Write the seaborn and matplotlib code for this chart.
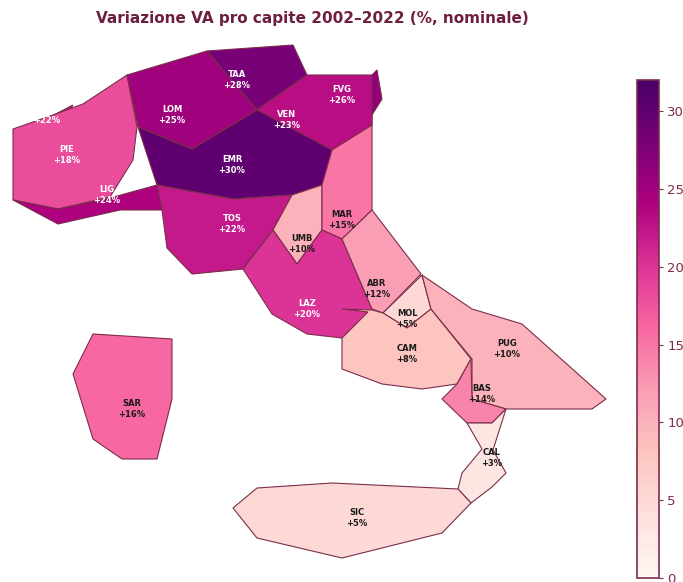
import matplotlib
matplotlib.use("Agg")
import matplotlib.pyplot as plt
import seaborn as sns
from matplotlib.colors import Normalize
from matplotlib.cm import ScalarMappable

sns.set_theme(style="white")
plt.rcParams["font.family"] = ["DejaVu Sans"]

regions = ["VDA", "PIE", "LIG", "LOM", "TAA", "FVG", "VEN", "EMR", "TOS", "UMB",
           "MAR", "LAZ", "ABR", "MOL", "CAM", "PUG", "BAS", "CAL", "SIC", "SAR"]
growth = [22, 18, 24, 25, 28, 26, 23, 30, 22, 10,
          15, 20, 12, 5, 8, 10, 14, 3, 5, 16]

# region outlines
vda = [(48, 118), (73, 105), (70, 110), (55, 118)]
pie = [(13, 129), (53, 115), (83, 104), (127, 75), (137, 127), (133, 160), (110, 197), (58, 209), (13, 200)]
lig = [(13, 200), (58, 224), (120, 210), (162, 210), (157, 185), (110, 198), (58, 209)]
lom = [(127, 75), (207, 51), (257, 110), (192, 149), (138, 127)]
taa = [(207, 51), (293, 45), (307, 75), (257, 110)]
fvg = [(372, 75), (377, 70), (382, 99), (372, 115), (372, 125), (360, 125)]
ven = [(257, 110), (307, 75), (372, 75), (372, 125), (332, 150)]
emr = [(138, 127), (192, 149), (257, 110), (332, 150), (322, 185), (292, 195), (233, 199), (157, 185)]
tos = [(157, 185), (233, 199), (292, 195), (273, 230), (243, 269), (192, 274), (167, 248), (162, 210)]
umb = [(292, 195), (322, 185), (322, 230), (297, 264), (273, 230)]
mar = [(332, 150), (372, 125), (372, 210), (342, 239), (322, 230), (322, 185)]
laz = [(273, 230), (297, 264), (322, 230), (342, 239), (372, 309), (342, 338), (307, 334), (272, 314), (243, 269)]
abr = [(342, 239), (372, 210), (421, 274), (383, 313), (372, 309)]
mol = [(422, 275), (431, 309), (407, 328), (383, 313)]
cam = [(372, 310), (383, 313), (407, 328), (431, 309), (471, 359), (457, 384), (422, 389), (382, 384), (342, 369), (342, 338), (368, 312), (342, 309)]
pug = [(422, 275), (472, 309), (522, 324), (606, 399), (592, 409), (506, 409), (472, 399), (472, 359), (431, 309)]
bas = [(471, 359), (472, 399), (506, 409), (492, 423), (467, 423), (442, 399), (457, 384)]
cal = [(467, 423), (492, 423), (506, 409), (493, 450), (506, 473), (492, 487), (471, 503), (458, 489), (462, 473), (482, 449)]
sic = [(233, 508), (257, 488), (332, 483), (458, 489), (471, 503), (442, 533), (342, 558), (257, 538)]
sar = [(93, 334), (172, 339), (172, 399), (157, 459), (122, 459), (93, 439), (73, 374)]
outlines = [vda, pie, lig, lom, taa, fvg, ven, emr, tos, umb, mar, laz, abr, mol, cam, pug, bas, cal, sic, sar]

label_x = [47, 67, 107, 172, 237, 342, 287, 232, 232, 302, 342, 307, 377, 407, 407, 507, 482, 492, 357, 132]
label_y = [115, 155, 195, 115, 80, 95, 120, 165, 224, 244, 220, 309, 289, 319, 354, 349, 394, 458, 518, 409]

edge = "#7b2d4a"
cmap = sns.color_palette("RdPu", as_cmap=True)
norm = Normalize(vmin=0, vmax=32)

fig = plt.figure(figsize=(6.83, 5.82), dpi=100)
ax = fig.add_axes([0, 0, 1, 1])
for name, val, pts in zip(regions, growth, outlines):
    xs, ys = zip(*pts)
    ax.fill(xs, ys, facecolor=cmap(norm(val)), edgecolor=edge, linewidth=0.8, joinstyle="miter")
for name, val, x, y in zip(regions, growth, label_x, label_y):
    ax.text(x, y, f"{name}\n+{val}%", ha="center", va="center", fontsize=6, fontweight="bold",
            color="white" if val >= 18 else "#1a1a1a", linespacing=1.15)
ax.set_xlim(0, 683)
ax.set_ylim(582, 0)
ax.axis("off")

fig.text(312 / 683, 1 - 18 / 582, "Variazione VA pro capite 2002\u20132022 (%, nominale)", ha="center", va="center",
         fontsize=10.95, fontweight="bold", color="#6e1f3f")

cax = fig.add_axes([637 / 683, 1 - 578 / 582, 22 / 683, 498 / 582])
cb = fig.colorbar(ScalarMappable(norm=norm, cmap=cmap), cax=cax)
cb.set_ticks([0, 5, 10, 15, 20, 25, 30])
cb.outline.set_edgecolor(edge)
cb.outline.set_linewidth(1.2)
cax.tick_params(axis="y", length=3, width=0.8, color=edge, labelcolor=edge, labelsize=9.5, pad=3, right=True)

fig.savefig("out.png", dpi=100)
